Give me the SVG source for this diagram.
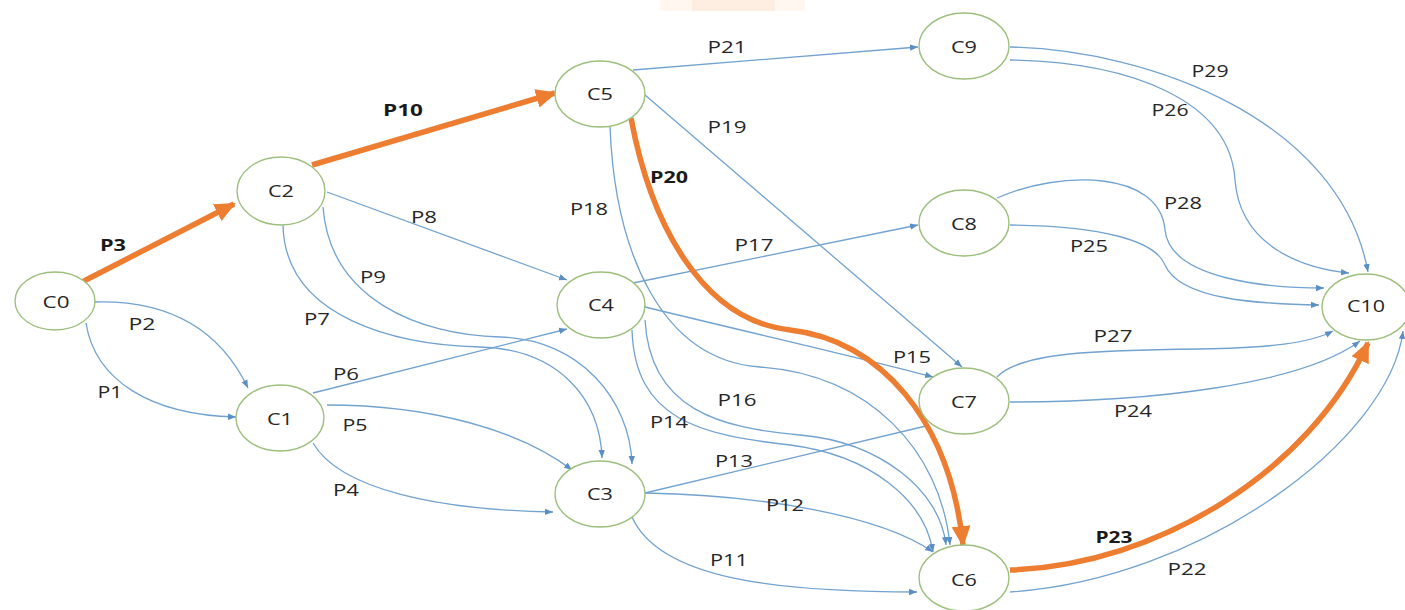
<svg xmlns="http://www.w3.org/2000/svg" width="1405" height="610" viewBox="0 0 1405 610">
<defs>
<style>
.node ellipse{fill:#ffffff;stroke:#9dbf7e;stroke-width:1.4}
.node text{font-family:"Open Sans","Liberation Sans",sans-serif;font-size:16px;fill:#262626;text-anchor:middle}
.e{fill:none;stroke:#72a2cf;stroke-width:1.3;marker-end:url(#ab)}
.en{fill:none;stroke:#72a2cf;stroke-width:1.3}
.o{fill:none;stroke:#ed7d31;stroke-width:5.5;marker-end:url(#ao)}
.lbl{font-family:"Open Sans","Liberation Sans",sans-serif;font-size:16px;fill:#262626}
.b{font-weight:bold;fill:#1a1a1a}
</style>
<marker id="ab" viewBox="0 0 10 10" refX="10" refY="5" markerUnits="userSpaceOnUse" markerWidth="8" markerHeight="8" orient="auto">
<path d="M0,1 L10,5 L0,9 z" fill="#5b8fc4"/>
</marker>
<marker id="ao" viewBox="0 0 10 10" refX="9" refY="5" markerUnits="userSpaceOnUse" markerWidth="21" markerHeight="21" orient="auto">
<path d="M0,0.5 L10,5 L0,9.5 z" fill="#ed7d31"/>
</marker>
</defs>
<rect width="1405" height="610" fill="#ffffff"/>
<rect x="660" y="0" width="145" height="11" fill="#fff7f0"/>
<rect x="692" y="0" width="83" height="11" fill="#fdeee1"/>

<g id="connectors">
<path class="e" d="M95,302 C170,300 220,330 248,388"/>
<path class="e" d="M86,323 C95,380 150,415 236,417"/>
<path class="e" d="M283,225 C285,320 400,345 480,347 C560,349 600,400 602,458"/>
<path class="e" d="M323,207 C330,300 420,335 500,337 C580,339 630,400 632,464"/>
<path class="e" d="M327,192 L567,280"/>
<path class="e" d="M313,393 L567,329"/>
<path class="e" d="M327,405 C430,405 520,430 572,470"/>
<path class="e" d="M313,443 C340,490 440,510 553,512"/>
<path class="e" d="M632,517 C660,580 780,592 917,592"/>
<path class="e" d="M645,493 C760,495 880,515 933,552"/>
<path class="en" d="M645,493 L926,426"/>
<path class="e" d="M632,330 C635,420 700,435 790,445 C870,455 925,500 933,552"/>
<path class="e" d="M645,320 C650,410 720,428 800,435 C880,442 940,490 946,545"/>
<path class="e" d="M610,127 C615,250 660,360 760,367 C870,375 940,450 950,545"/>
<path class="e" d="M645,307 C760,335 870,360 933,377"/>
<path class="e" d="M633,283 L918,225"/>
<path class="e" d="M645,95 L962,367"/>
<path class="e" d="M633,70 L918,47"/>
<path class="e" d="M1010,47 C1150,50 1340,120 1368,272"/>
<path class="e" d="M1010,60 C1130,62 1230,100 1235,180 C1240,245 1300,268 1349,273"/>
<path class="e" d="M997,198 C1060,170 1160,170 1165,230 C1170,280 1270,288 1324,288"/>
<path class="e" d="M1010,225 C1100,226 1155,240 1165,265 C1180,300 1260,304 1319,305"/>
<path class="e" d="M997,377 C1020,352 1100,350 1200,349 C1270,348 1310,343 1333,331"/>
<path class="e" d="M1010,402 C1150,402 1300,385 1360,341"/>
<path class="e" d="M1010,592 C1200,580 1390,440 1403,331"/>
<path class="o" d="M82,282 L234,204"/>
<path class="o" d="M312,165 L555,93"/>
<path class="o" d="M631,118 C650,220 700,320 790,330 C880,340 950,420 963,545"/>
<path class="o" d="M1010,570 C1160,565 1310,470 1368,343"/>
</g>

<g id="edge-labels">
<text class="lbl b" x="113" y="251" text-anchor="middle" textLength="26" lengthAdjust="spacingAndGlyphs">P3</text>
<text class="lbl b" x="403" y="116" text-anchor="middle" textLength="40" lengthAdjust="spacingAndGlyphs">P10</text>
<text class="lbl b" x="669" y="183" text-anchor="middle" textLength="38" lengthAdjust="spacingAndGlyphs">P20</text>
<text class="lbl b" x="1114" y="543" text-anchor="middle" textLength="37" lengthAdjust="spacingAndGlyphs">P23</text>
<text class="lbl" x="142" y="330" text-anchor="middle" textLength="27" lengthAdjust="spacingAndGlyphs">P2</text>
<text class="lbl" x="110" y="398" text-anchor="middle" textLength="25" lengthAdjust="spacingAndGlyphs">P1</text>
<text class="lbl" x="317" y="325" text-anchor="middle" textLength="26" lengthAdjust="spacingAndGlyphs">P7</text>
<text class="lbl" x="373" y="283" text-anchor="middle" textLength="26" lengthAdjust="spacingAndGlyphs">P9</text>
<text class="lbl" x="424" y="223" text-anchor="middle" textLength="26" lengthAdjust="spacingAndGlyphs">P8</text>
<text class="lbl" x="589" y="215" text-anchor="middle" textLength="38" lengthAdjust="spacingAndGlyphs">P18</text>
<text class="lbl" x="346" y="380" text-anchor="middle" textLength="26" lengthAdjust="spacingAndGlyphs">P6</text>
<text class="lbl" x="355" y="431" text-anchor="middle" textLength="25" lengthAdjust="spacingAndGlyphs">P5</text>
<text class="lbl" x="346" y="496" text-anchor="middle" textLength="26" lengthAdjust="spacingAndGlyphs">P4</text>
<text class="lbl" x="727" y="53" text-anchor="middle" textLength="39" lengthAdjust="spacingAndGlyphs">P21</text>
<text class="lbl" x="727" y="133" text-anchor="middle" textLength="39" lengthAdjust="spacingAndGlyphs">P19</text>
<text class="lbl" x="754" y="251" text-anchor="middle" textLength="39" lengthAdjust="spacingAndGlyphs">P17</text>
<text class="lbl" x="912" y="363" text-anchor="middle" textLength="38" lengthAdjust="spacingAndGlyphs">P15</text>
<text class="lbl" x="737" y="406" text-anchor="middle" textLength="39" lengthAdjust="spacingAndGlyphs">P16</text>
<text class="lbl" x="669" y="428" text-anchor="middle" textLength="38" lengthAdjust="spacingAndGlyphs">P14</text>
<text class="lbl" x="734" y="467" text-anchor="middle" textLength="38" lengthAdjust="spacingAndGlyphs">P13</text>
<text class="lbl" x="785" y="511" text-anchor="middle" textLength="38" lengthAdjust="spacingAndGlyphs">P12</text>
<text class="lbl" x="729" y="566" text-anchor="middle" textLength="38" lengthAdjust="spacingAndGlyphs">P11</text>
<text class="lbl" x="1210" y="77" text-anchor="middle" textLength="37" lengthAdjust="spacingAndGlyphs">P29</text>
<text class="lbl" x="1170" y="116" text-anchor="middle" textLength="37" lengthAdjust="spacingAndGlyphs">P26</text>
<text class="lbl" x="1183" y="209" text-anchor="middle" textLength="38" lengthAdjust="spacingAndGlyphs">P28</text>
<text class="lbl" x="1089" y="252" text-anchor="middle" textLength="38" lengthAdjust="spacingAndGlyphs">P25</text>
<text class="lbl" x="1113" y="342" text-anchor="middle" textLength="39" lengthAdjust="spacingAndGlyphs">P27</text>
<text class="lbl" x="1133" y="417" text-anchor="middle" textLength="38" lengthAdjust="spacingAndGlyphs">P24</text>
<text class="lbl" x="1187" y="575" text-anchor="middle" textLength="39" lengthAdjust="spacingAndGlyphs">P22</text>
</g>

<g id="C0" class="node"><ellipse cx="55" cy="301" rx="40" ry="29"/><text x="56" y="308" textLength="27" lengthAdjust="spacingAndGlyphs">C0</text></g>
<g id="C1" class="node"><ellipse cx="280" cy="418" rx="44" ry="33"/><text x="280" y="425" textLength="26" lengthAdjust="spacingAndGlyphs">C1</text></g>
<g id="C2" class="node"><ellipse cx="281" cy="191" rx="44" ry="34"/><text x="281" y="197" textLength="26" lengthAdjust="spacingAndGlyphs">C2</text></g>
<g id="C3" class="node"><ellipse cx="600" cy="494" rx="45" ry="33"/><text x="600" y="500" textLength="26" lengthAdjust="spacingAndGlyphs">C3</text></g>
<g id="C4" class="node"><ellipse cx="601" cy="305" rx="44" ry="33"/><text x="601" y="311" textLength="26" lengthAdjust="spacingAndGlyphs">C4</text></g>
<g id="C5" class="node"><ellipse cx="600" cy="94" rx="45" ry="33"/><text x="600" y="100" textLength="26" lengthAdjust="spacingAndGlyphs">C5</text></g>
<g id="C6" class="node"><ellipse cx="964" cy="578" rx="45" ry="33"/><text x="964" y="586" textLength="26" lengthAdjust="spacingAndGlyphs">C6</text></g>
<g id="C7" class="node"><ellipse cx="964" cy="401" rx="45" ry="33"/><text x="964" y="408" textLength="26" lengthAdjust="spacingAndGlyphs">C7</text></g>
<g id="C8" class="node"><ellipse cx="964" cy="223" rx="45" ry="33"/><text x="964" y="230" textLength="26" lengthAdjust="spacingAndGlyphs">C8</text></g>
<g id="C9" class="node"><ellipse cx="964" cy="46" rx="45" ry="33"/><text x="964" y="53" textLength="26" lengthAdjust="spacingAndGlyphs">C9</text></g>
<g id="C10" class="node"><ellipse cx="1366" cy="307" rx="44" ry="33"/><text x="1366" y="312" textLength="38" lengthAdjust="spacingAndGlyphs">C10</text></g>
</svg>
